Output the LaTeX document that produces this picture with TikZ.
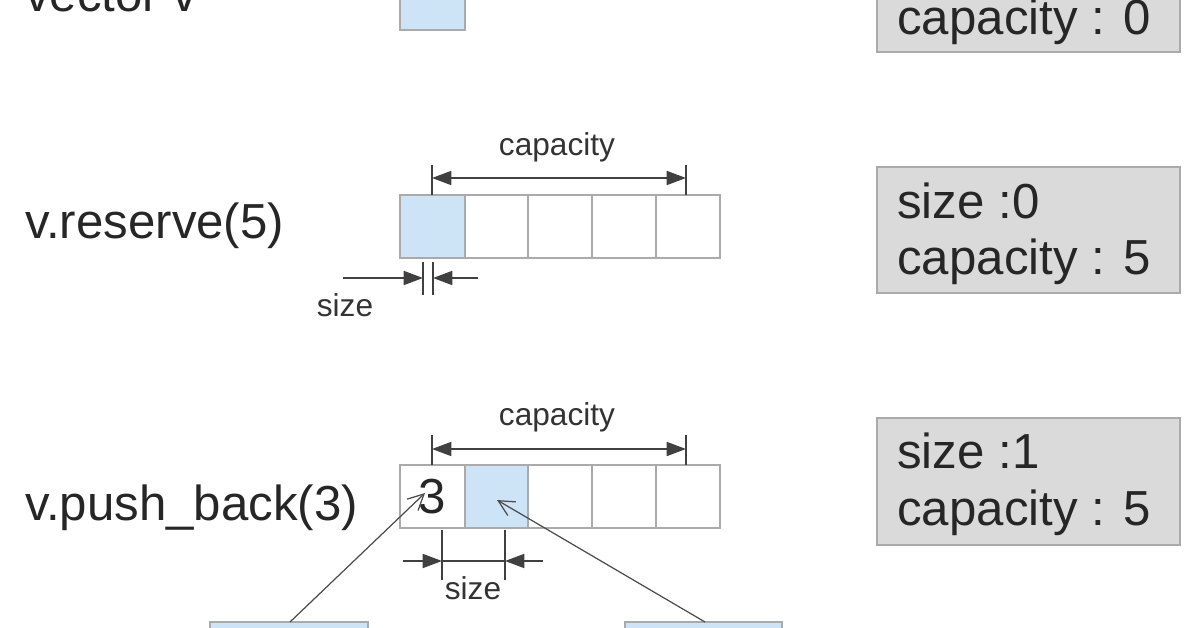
\documentclass[tikz,border=0pt]{standalone}
\usepackage{fontspec}
\setmainfont{Liberation Sans}
\usetikzlibrary{arrows.meta}
\definecolor{cellblue}{RGB}{204,228,246}
\definecolor{boxgray}{RGB}{218,218,218}
\definecolor{cellline}{RGB}{170,170,170}
\begin{document}
\begin{tikzpicture}[x=0.02cm,y=-0.02cm,
  cell/.style={draw=cellline,line width=0.6pt},
  blue/.style={cell,fill=cellblue},
  info/.style={draw=cellline,fill=boxgray,line width=0.6pt},
  big/.style={font=\fontsize{28}{33}\selectfont,text=black!85,inner sep=0},
  small/.style={font=\fontsize{18}{21}\selectfont,text=black!80,inner sep=0},
  dim/.style={line width=0.9pt,draw=black!75},
  tip/.style={-{Triangle[length=11pt,width=8pt]}},
  tips/.style={{Triangle[length=11pt,width=8pt]}-{Triangle[length=11pt,width=8pt]}},
  ptr/.style={line width=0.7pt,draw=black!70,-{Straight Barb[length=9pt,width=9pt]}}]
\useasboundingbox (0,0) rectangle (1196,628);
\begin{scope}
\clip (0,0) rectangle (1196,628);
% row 1
\node[big,anchor=base west] (l1) at (25,12) {vector v};
\draw[blue] (400,-40) rectangle (465,30);
\draw[info] (877,-80) rectangle (1180,52);
\node[big,anchor=base west] (c1) at (897,35) {capacity : 0};
% row 2
\node[big,anchor=base west] (l2) at (25,238) {v.reserve(5)};
\draw[blue] (400,195) rectangle (465,258);
\foreach \a/\b in {465/528,528/592,592/656,656/720} \draw[cell] (\a,195) rectangle (\b,258);
\draw[dim] (432,165) -- (432,195) (686,165) -- (686,195);
\coordinate (ca1) at (432,178); \coordinate (cb1) at (686,178);
\draw[dim,tips] (ca1) -- (cb1);
\node[small] (cap1) at (557,147) {capacity};
\draw[dim] (423,262) -- (423,295) (433,262) -- (433,295);
\coordinate (s1a) at (343,278); \coordinate (s1b) at (423,278);
\coordinate (s1c) at (478,278); \coordinate (s1d) at (433,278);
\draw[dim,tip] (s1a) -- (s1b);
\draw[dim,tip] (s1c) -- (s1d);
\node[small] (sz1) at (345,305) {size};
\draw[info] (877,167) rectangle (1180,293);
\node[big,anchor=base west] (i2a) at (897,218) {size :0};
\node[big,anchor=base west] (i2b) at (897,275) {capacity : 5};
% row 3
\node[big,anchor=base west] (l3) at (25,520) {v.push\_back(3)};
\draw[cell] (400,465) rectangle (465,528);
\draw[blue] (465,465) rectangle (528,528);
\foreach \a/\b in {528/592,592/656,656/720} \draw[cell] (\a,465) rectangle (\b,528);
\node[big,anchor=base] (three) at (432,513) {3};
\draw[dim] (432,435) -- (432,465) (686,435) -- (686,465);
\coordinate (ca2) at (432,449); \coordinate (cb2) at (686,449);
\draw[dim,tips] (ca2) -- (cb2);
\node[small] (cap2) at (557,417) {capacity};
\draw[dim] (442,530) -- (442,580) (505,530) -- (505,580);
\coordinate (s2a) at (403,561); \coordinate (s2b) at (442,561);
\coordinate (s2c) at (543,561); \coordinate (s2d) at (505,561);
\draw[dim] (s2b) -- (s2d);
\draw[dim,tip] (s2a) -- (s2b);
\draw[dim,tip] (s2c) -- (s2d);
\node[small] (sz2) at (473,588) {size};
\draw[info] (877,418) rectangle (1180,545);
\node[big,anchor=base west] (i3a) at (897,468) {size :1};
\node[big,anchor=base west] (i3b) at (897,525) {capacity : 5};
% bottom boxes
\draw[blue] (210,622) rectangle (368,680);
\draw[blue] (625,622) rectangle (782,680);
\coordinate (p1) at (290,622); \coordinate (p1e) at (425,493);
\coordinate (p2) at (705,622); \coordinate (p2e) at (497,500);
\draw[ptr] (p1) -- (p1e);
\draw[ptr] (p2) -- (p2e);
\end{scope}
\end{tikzpicture}
\end{document}
